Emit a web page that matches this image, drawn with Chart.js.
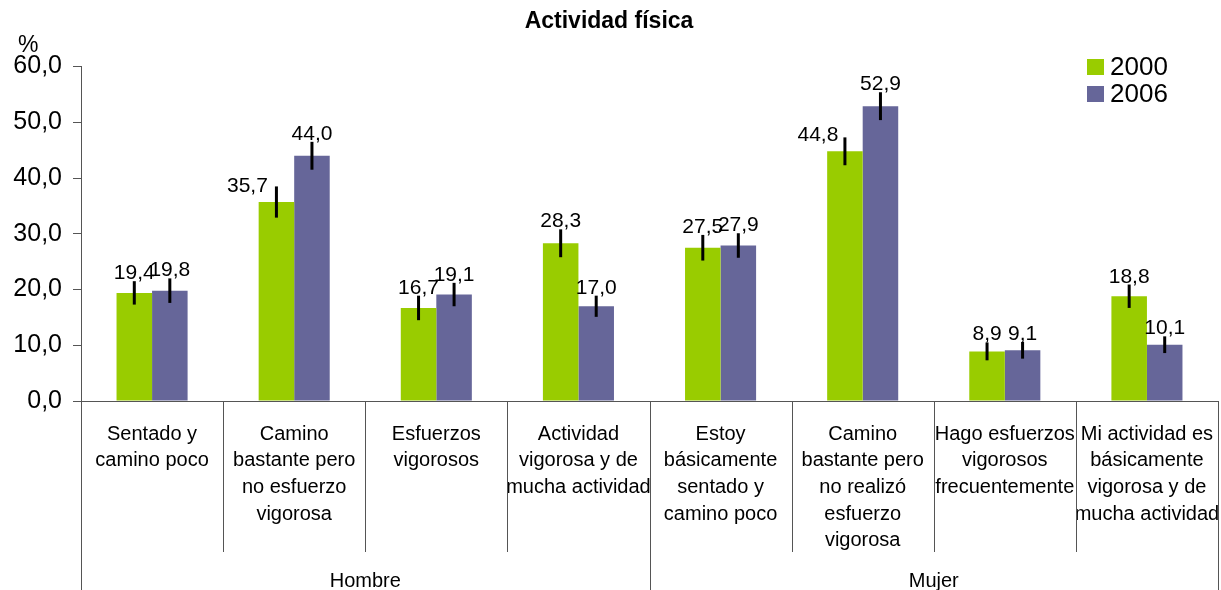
<!DOCTYPE html>
<html lang="es">
<head>
<meta charset="UTF-8">
<title>Actividad física</title>
<script src="https://cdn.jsdelivr.net/npm/chart.js"></script>
<style>
    body { margin: 0; background: #fff; }
    #wrap { width: 1221px; height: 590px; position: relative; }
</style>
</head>
<body>
<div id="wrap"><canvas id="chart"></canvas></div>
<script>
// datos
const categories = [
    ["Sentado y", "camino poco"],
    ["Camino", "bastante pero", "no esfuerzo", "vigorosa"],
    ["Esfuerzos", "vigorosos"],
    ["Actividad", "vigorosa y de", "mucha actividad"],
    ["Estoy", "básicamente", "sentado y", "camino poco"],
    ["Camino", "bastante pero", "no realizó", "esfuerzo", "vigorosa"],
    ["Hago esfuerzos", "vigorosos", "frecuentemente"],
    ["Mi actividad es", "básicamente", "vigorosa y de", "mucha actividad"]
];
const groups = ["Hombre", "Mujer"];
const groupSizes = [4, 4];
const seriesNames = ["2000", "2006"];
const values2000 = [19.4, 35.7, 16.7, 28.3, 27.5, 44.8, 8.9, 18.8];
const values2006 = [19.8, 44.0, 19.1, 17.0, 27.9, 52.9, 9.1, 10.1];
const err2000 = [2.1, 2.8, 2.2, 2.5, 2.3, 2.5, 1.6, 2.1];
const err2006 = [2.2, 2.5, 2.1, 1.9, 2.2, 2.5, 1.5, 1.5];

const FONT = '"Liberation Sans", Arial, sans-serif';
const fmt = v => v.toFixed(1).replace('.', ',');

// etiquetas que van al lado de la barra de error
const labelShift = { '0-1': -29, '0-5': -27 };

const extras = {
    id: 'extras',
    afterDatasetsDraw(chart) {
        const ctx = chart.ctx;
        const y = chart.scales.y;
        const x = chart.scales.x;
        const area = chart.chartArea;
        ctx.save();

        // barras de error y valores
        chart.data.datasets.forEach((ds, di) => {
            const meta = chart.getDatasetMeta(di);
            meta.data.forEach((bar, i) => {
                const v = ds.data[i], e = ds.errors[i];
                const top = y.getPixelForValue(v + e);
                const bot = y.getPixelForValue(v - e);
                ctx.strokeStyle = '#000';
                ctx.lineWidth = 3;
                ctx.beginPath();
                ctx.moveTo(bar.x, top);
                ctx.lineTo(bar.x, bot);
                ctx.stroke();

                ctx.font = '21px ' + FONT;
                ctx.fillStyle = '#000';
                ctx.textAlign = 'center';
                ctx.textBaseline = 'alphabetic';
                const dx = labelShift[di + '-' + i];
                if (dx !== undefined) ctx.fillText(fmt(v), bar.x + dx, bar.y - 10);
                else ctx.fillText(fmt(v), bar.x, top - 2);
            });
        });

        // separadores del eje x
        const n = categories.length;
        const groupEdges = [0];
        groupSizes.reduce((acc, s) => { groupEdges.push(acc + s); return acc + s; }, 0);
        ctx.strokeStyle = '#555';
        ctx.lineWidth = 1;
        for (let i = 0; i <= n; i++) {
            const px = Math.round(x.getPixelForValue(i - 0.5)) + 0.5;
            const isGroup = groupEdges.includes(i);
            ctx.beginPath();
            ctx.moveTo(px, area.bottom);
            ctx.lineTo(px, isGroup ? chart.height : area.bottom + 151);
            ctx.stroke();
        }

        // grupos
        ctx.font = '20px ' + FONT;
        ctx.fillStyle = '#000';
        ctx.textAlign = 'center';
        ctx.textBaseline = 'middle';
        groups.forEach((g, gi) => {
            const a = x.getPixelForValue(groupEdges[gi] - 0.5);
            const b = x.getPixelForValue(groupEdges[gi + 1] - 0.5);
            ctx.fillText(g, (a + b) / 2, area.bottom + 180);
        });

        // unidad
        ctx.font = '23px ' + FONT;
        ctx.textAlign = 'left';
        ctx.textBaseline = 'alphabetic';
        ctx.fillText('%', 18, 52);

        // leyenda
        const lx = area.right - 131;
        chart.data.datasets.forEach((ds, di) => {
            const cy = 67 + di * 27;
            ctx.fillStyle = ds.backgroundColor;
            ctx.fillRect(lx, cy - 8, 17, 16);
            ctx.fillStyle = '#000';
            ctx.font = '26px ' + FONT;
            ctx.textBaseline = 'middle';
            ctx.fillText(ds.label, lx + 23, cy + 1);
        });

        ctx.restore();
    }
};

new Chart(document.getElementById('chart'), {
    type: 'bar',
    data: {
        labels: categories,
        datasets: [
            { label: seriesNames[0], data: values2000, errors: err2000, backgroundColor: '#99cc00' },
            { label: seriesNames[1], data: values2006, errors: err2006, backgroundColor: '#666699' }
        ]
    },
    options: {
        responsive: true,
        maintainAspectRatio: false,
        animation: false,
        categoryPercentage: 0.5,
        barPercentage: 1.0,
        layout: { padding: { right: 3 } },
        plugins: {
            legend: { display: false },
            tooltip: { enabled: false },
            title: {
                display: true,
                text: 'Actividad física',
                color: '#000',
                font: { family: FONT, size: 23, weight: 'bold' },
                padding: { top: 8, bottom: 31 }
            }
        },
        scales: {
            x: {
                grid: { display: false },
                border: { display: true, color: '#555' },
                ticks: {
                    color: '#000',
                    font: { family: FONT, size: 20, lineHeight: 1.33 },
                    padding: 12,
                    maxRotation: 0,
                    autoSkip: false
                },
                afterFit(scale) {
                    scale.height = 189;
                    scale.paddingLeft = 0;
                    scale.paddingRight = 0;
                }
            },
            y: {
                min: 0,
                max: 60,
                grid: { drawOnChartArea: false, tickLength: 8, color: '#555' },
                border: { color: '#555' },
                ticks: {
                    stepSize: 10,
                    color: '#000',
                    padding: 11,
                    font: { family: FONT, size: 25 },
                    callback: v => fmt(v)
                },
                afterFit(scale) { scale.width = 81; }
            }
        }
    },
    plugins: [extras]
});
</script>
</body>
</html>
